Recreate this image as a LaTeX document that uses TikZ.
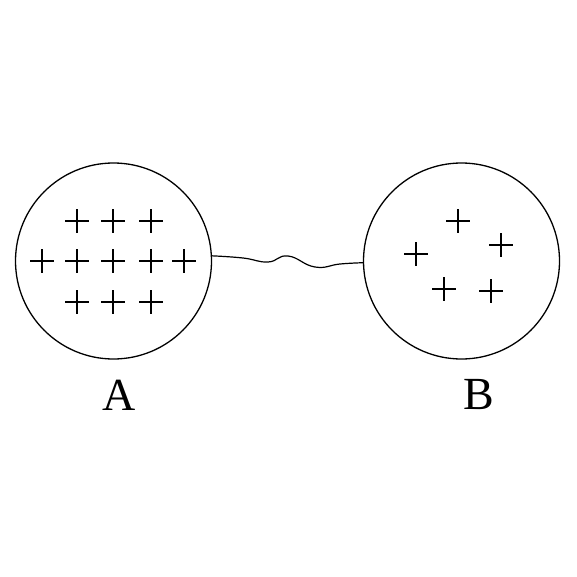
\documentclass[tikz,border=0pt]{standalone}
\usepackage{fontspec}
\setmainfont{Liberation Serif}
\begin{document}
\begin{tikzpicture}[x=1pt,y=-1pt,
  ball/.style={circle,draw,line width=1.3pt,minimum size=196pt,inner sep=0pt},
  lbl/.style={font=\fontsize{46}{46}\selectfont,inner sep=0pt},
  plus/.style={line width=2.6pt},
  wire/.style={line width=1.2pt}]
\useasboundingbox (0,0) rectangle (577,577);
\node[ball] (A) at (113.5,261) {};
\node[ball] (B) at (461.5,261) {};
\foreach \x/\y [count=\i] in {77/221,113/221,151/221,42/261,77/261,113/261,151/261,184/261,77/302,113/302,151/302}{
  \node[inner sep=0pt,minimum size=23pt] (pa\i) at (\x,\y) {};
  \draw[plus] (pa\i.west) -- (pa\i.east) (pa\i.north) -- (pa\i.south);
}
\foreach \x/\y [count=\i] in {458/221,501/245,416/254,444/289,491/291}{
  \node[inner sep=0pt,minimum size=23pt] (pb\i) at (\x,\y) {};
  \draw[plus] (pb\i.west) -- (pb\i.east) (pb\i.north) -- (pb\i.south);
}
\draw[wire] plot[smooth,tension=0.8] coordinates {(A.3) (243,258) (268,262) (288,256) (315,267) (340,264) (B.181)};
\node[lbl] (la) at (119,395) {A};
\node[lbl] (lb) at (479,395) {B};
\end{tikzpicture}
\end{document}
